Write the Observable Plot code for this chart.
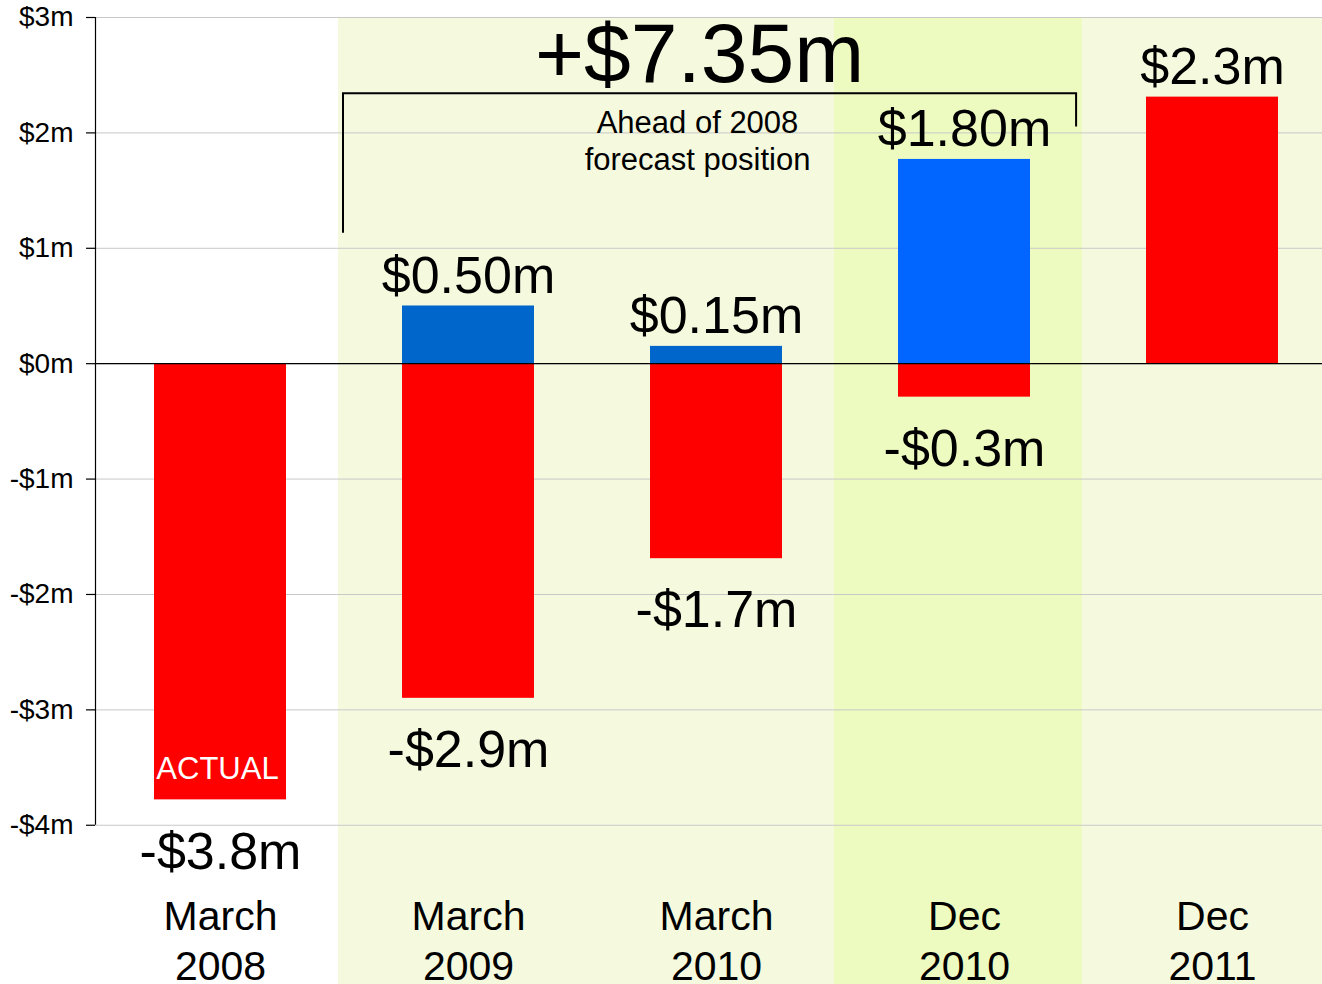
<!DOCTYPE html>
<html>
<head>
<meta charset="utf-8">
<script src="https://cdn.jsdelivr.net/npm/d3@7"></script>
<script src="https://cdn.jsdelivr.net/npm/@observablehq/plot@0.6"></script>
<style>
  html, body { margin: 0; padding: 0; background: white; overflow: hidden; }
  #chart svg { display: block; max-width: none; }
</style>
</head>
<body>
<div id="chart"></div>
<script>
// ---- data ----
const categories = ["March\n2008", "March\n2009", "March\n2010", "Dec\n2010", "Dec\n2011"];
const bandFill = ["#ffffff", "#f5fadf", "#f5fadf", "#eefbc0", "#f5fadf"];

const barCategory = ["March\n2008", "March\n2009", "March\n2009", "March\n2010", "March\n2010", "Dec\n2010", "Dec\n2010", "Dec\n2011"];
const barValue    = [-3.78, -2.9, 0.50, -1.69, 0.15, -0.29, 1.77, 2.31];
const barColor    = ["#ff0000", "#ff0000", "#0066cc", "#ff0000", "#0066cc", "#ff0000", "#0066ff", "#ff0000"];
const barLabel    = ["-$3.8m", "-$2.9m", "$0.50m", "-$1.7m", "$0.15m", "-$0.3m", "$1.80m", "$2.3m"];

const yTicks = [-4, -3, -2, -1, 0, 1, 2, 3];
const yTickLabels = ["-$4m", "-$3m", "-$2m", "-$1m", "$0m", "$1m", "$2m", "$3m"];
const yDomain = [-5.38, 3];

const actualLabel = "ACTUAL";
const totalLabel = "+$7.35m";
const annotationText = "Ahead of 2008\nforecast position";
const bracketFrom = "March\n2009";
const bracketTo = "Dec\n2010";
const bracketTop = 2.34;
const bracketLeftBottom = 1.13;
const bracketRightBottom = 2.05;

// ---- table ----
const bars = barCategory.map((c, i) => ({cat: c, value: barValue[i], color: barColor[i], label: barLabel[i]}));
const bands = categories.map((c, i) => ({cat: c, fill: bandFill[i]}));

const font = "'Liberation Sans', Arial, sans-serif";

// custom mark: y-axis line and the bracket, placed through Plot's scales
function overlay(index, scales, values, dimensions) {
  const x = scales.x, y = scales.y;
  const step = x(categories[1]) - x(categories[0]);
  const g = d3.create("svg:g").attr("fill", "none").attr("stroke", "black");
  g.append("line")
    .attr("x1", dimensions.marginLeft + 0.5).attr("x2", dimensions.marginLeft + 0.5)
    .attr("y1", y(d3.max(yTicks))).attr("y2", y(d3.min(yTicks)))
    .attr("stroke-width", 1.2);
  const xl = x(bracketFrom) - 1;
  const xr = x(bracketTo) + step * 0.952;
  g.append("path")
    .attr("d", `M${xl},${y(bracketLeftBottom)}V${y(bracketTop)}H${xr}V${y(bracketRightBottom)}`)
    .attr("stroke-width", 2);
  return g.node();
}

const plot = Plot.plot({
  width: 1322,
  height: 984,
  marginLeft: 95,
  marginRight: 0,
  marginTop: 17,
  marginBottom: 0,
  style: {fontFamily: font, background: "white", color: "black", overflow: "visible"},
  x: {domain: categories, range: [95, 1336], padding: 0, axis: null},
  y: {domain: yDomain, axis: null},
  color: {type: "identity"},
  marks: [
    Plot.cell(bands, {x: "cat", fill: "fill", dx: -6}),
    Plot.ruleY(yTicks, {stroke: "#c8c8c8", strokeWidth: 1}),
    Plot.axisY(yTicks, {
      label: null,
      tickFormat: d => yTickLabels[yTicks.indexOf(d)],
      tickSize: 9, tickPadding: 13, fontSize: 28, stroke: "black", strokeWidth: 1.2
    }),
    Plot.barY(bars.filter(d => d.value < 0), {x: "cat", y: "value", fill: "color", insetLeft: 58, insetRight: 58}),
    Plot.barY(bars.filter(d => d.value >= 0), {x: "cat", y: "value", fill: "color", insetLeft: 58, insetRight: 58}),
    Plot.ruleY([0], {stroke: "black", strokeWidth: 1.2}),
    overlay,
    Plot.text(bars.filter(d => d.value >= 0), {x: "cat", y: "value", text: "label", fontSize: 52, dy: -30}),
    Plot.text(bars.filter(d => d.value < 0), {x: "cat", y: "value", text: "label", fontSize: 52, dy: 52}),
    Plot.text(bars.filter(d => d.cat === categories[0]), {x: "cat", y: "value", text: () => actualLabel, fill: "white", fontSize: 31, dy: -31, dx: -3}),
    Plot.text(categories, {x: d => d, text: d => d, frameAnchor: "bottom", lineAnchor: "top", dy: -89, fontSize: 41, lineHeight: 1.2}),
    Plot.text([totalLabel], {x: () => categories[2], y: () => bracketTop, text: d => d, fontSize: 84, dy: -39, dx: -17}),
    Plot.text([annotationText], {x: () => categories[2], y: () => bracketTop, text: d => d, fontSize: 31, lineAnchor: "top", lineHeight: 1.17, dy: 14, dx: -19})
  ]
});

document.getElementById("chart").appendChild(plot);
</script>
</body>
</html>
